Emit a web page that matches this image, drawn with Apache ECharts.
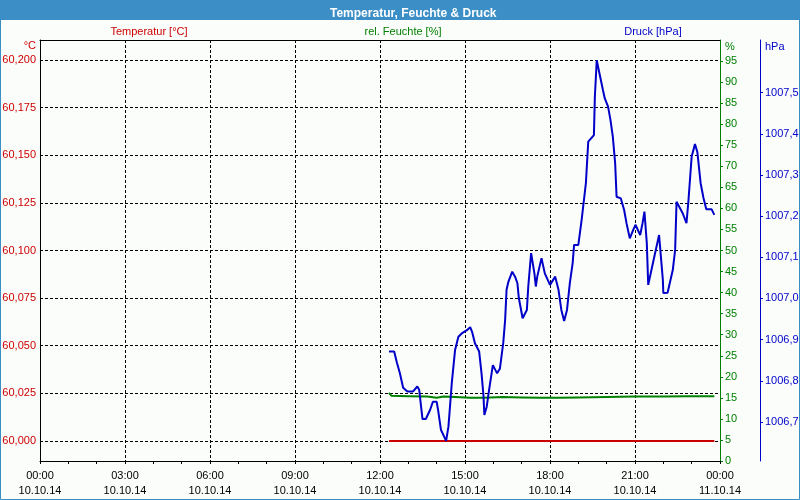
<!DOCTYPE html>
<html>
<head>
<meta charset="utf-8">
<script src="https://cdn.jsdelivr.net/npm/echarts@6/dist/echarts.min.js"></script>
<style>
  html, body { margin: 0; padding: 0; background: #fbfdfb; }
  #chart { width: 800px; height: 500px; }
</style>
</head>
<body>
<div id="chart"></div>
<script>
// Werte vom 10.10.14, Zeit als HH:MM
const temperature = [
  ['12:19', 60.0], ['14:00', 60.0], ['16:00', 60.0], ['18:00', 60.0],
  ['20:00', 60.0], ['22:00', 60.0], ['23:48', 60.0]
];
const humidity = [
  ['12:19', 16.2], ['12:24', 15.5], ['13:00', 15.4], ['13:40', 15.3], ['14:00', 15.0],
  ['14:15', 15.3], ['14:40', 15.2], ['15:10', 15.0], ['15:40', 15.0], ['16:20', 15.2],
  ['17:00', 15.1], ['17:40', 15.0], ['18:20', 15.0], ['19:00', 15.1], ['20:00', 15.2],
  ['21:00', 15.3], ['22:00', 15.3], ['22:50', 15.4], ['23:48', 15.4]
];
const pressure = [
  ['12:19', 1006.871], ['12:30', 1006.871], ['12:36', 1006.843], ['12:42', 1006.819],
  ['12:49', 1006.783], ['12:58', 1006.774], ['13:10', 1006.774], ['13:19', 1006.786],
  ['13:23', 1006.778], ['13:30', 1006.707], ['13:37', 1006.707], ['13:46', 1006.729],
  ['13:52', 1006.749], ['14:00', 1006.749], ['14:03', 1006.729], ['14:09', 1006.681],
  ['14:20', 1006.654], ['14:25', 1006.689], ['14:32', 1006.794], ['14:39', 1006.875],
  ['14:46', 1006.907], ['14:53', 1006.915], ['15:04', 1006.923], ['15:11', 1006.930],
  ['15:15', 1006.919], ['15:21', 1006.891], ['15:30', 1006.871], ['15:35', 1006.818],
  ['15:39', 1006.766], ['15:41', 1006.717], ['15:46', 1006.737], ['15:51', 1006.778],
  ['15:59', 1006.838], ['16:03', 1006.834], ['16:08', 1006.818], ['16:14', 1006.830],
  ['16:21', 1006.892], ['16:25', 1006.948], ['16:28', 1007.021], ['16:32', 1007.041],
  ['16:40', 1007.065], ['16:46', 1007.053], ['16:51', 1007.037], ['16:54', 1007.001],
  ['17:02', 1006.952], ['17:11', 1006.972], ['17:14', 1007.029], ['17:20', 1007.110],
  ['17:27', 1007.061], ['17:30', 1007.029], ['17:33', 1007.053], ['17:42', 1007.098],
  ['17:49', 1007.061], ['18:00', 1007.033], ['18:11', 1007.053], ['18:18', 1007.021],
  ['18:24', 1006.972], ['18:30', 1006.945], ['18:36', 1006.972], ['18:42', 1007.037],
  ['18:48', 1007.086], ['18:51', 1007.130], ['19:00', 1007.130], ['19:07', 1007.191],
  ['19:16', 1007.280], ['19:21', 1007.381], ['19:33', 1007.397], ['19:35', 1007.490],
  ['19:39', 1007.579], ['19:42', 1007.575], ['19:44', 1007.551], ['19:52', 1007.507],
  ['19:56', 1007.486], ['20:03', 1007.466], ['20:08', 1007.434], ['20:13', 1007.393],
  ['20:18', 1007.328], ['20:21', 1007.247], ['20:30', 1007.243], ['20:37', 1007.215],
  ['20:42', 1007.183], ['20:49', 1007.146], ['20:56', 1007.166], ['21:01', 1007.179],
  ['21:11', 1007.154], ['21:16', 1007.183], ['21:20', 1007.211], ['21:25', 1007.134],
  ['21:28', 1007.033], ['21:34', 1007.065], ['21:41', 1007.102], ['21:51', 1007.154],
  ['21:59', 1007.045], ['22:00', 1007.013], ['22:09', 1007.014], ['22:20', 1007.069],
  ['22:25', 1007.118], ['22:28', 1007.235], ['22:32', 1007.231], ['22:41', 1007.207],
  ['22:49', 1007.183], ['22:53', 1007.235], ['23:00', 1007.345], ['23:07', 1007.375],
  ['23:12', 1007.356], ['23:19', 1007.280], ['23:25', 1007.244], ['23:31', 1007.217],
  ['23:42', 1007.217], ['23:48', 1007.203]
];
const tempTicks = [60.0, 60.025, 60.05, 60.075, 60.1, 60.125, 60.15, 60.175, 60.2];
const pressTicks = [1006.7, 1006.8, 1006.9, 1007.0, 1007.1, 1007.2, 1007.3, 1007.4, 1007.5];

const FONT = 'Liberation Sans';
const RED = '#cc0000', GREEN = '#008000', BLUE = '#0000c8';

function toMin(s) {
  const p = s.split(':');
  return (+p[0]) * 60 + (+p[1]);
}
function toSeries(arr) {
  return arr.map(d => [toMin(d[0]), d[1]]);
}
function pad(n) { return (n < 10 ? '0' : '') + n; }

const chart = echarts.init(document.getElementById('chart'), null, { renderer: 'canvas' });

const dashed = { type: [3, 2], color: '#000', width: 1 };

const option = {
  backgroundColor: '#fbfdfb',
  animation: false,
  textStyle: { fontFamily: FONT },
  title: {
    text: 'Temperatur, Feuchte & Druck',
    left: 325,
    top: 3,
    textStyle: { color: '#fff', fontSize: 12, fontWeight: 'bold', fontFamily: FONT }
  },
  graphic: [
    { type: 'rect', z: 0, shape: { x: 0, y: 0, width: 800, height: 20 }, style: { fill: '#3c8fc6' } },
    { type: 'rect', z: 0, shape: { x: 0.5, y: 0.5, width: 799, height: 499 }, style: { fill: null, stroke: '#3c8fc6', lineWidth: 1 } },
    { type: 'text', x: 149, y: 32, style: { text: 'Temperatur [°C]', fill: RED, font: '11px ' + FONT, align: 'center', verticalAlign: 'middle' } },
    { type: 'text', x: 403, y: 32, style: { text: 'rel. Feuchte [%]', fill: GREEN, font: '11px ' + FONT, align: 'center', verticalAlign: 'middle' } },
    { type: 'text', x: 653, y: 32, style: { text: 'Druck [hPa]', fill: BLUE, font: '11px ' + FONT, align: 'center', verticalAlign: 'middle' } },
    { type: 'text', x: 36, y: 46, style: { text: '°C', fill: RED, font: '11px ' + FONT, align: 'right', verticalAlign: 'middle' } },
    { type: 'text', x: 725, y: 47, style: { text: '%', fill: GREEN, font: '11px ' + FONT, align: 'left', verticalAlign: 'middle' } },
    { type: 'text', x: 765, y: 47, style: { text: 'hPa', fill: BLUE, font: '11px ' + FONT, align: 'left', verticalAlign: 'middle' } }
  ],
  grid: { left: 40, top: 40, width: 680, height: 421, outerBoundsMode: 'none' },
  xAxis: [{
    type: 'value',
    min: 0,
    max: 1440,
    interval: 180,
    axisLine: { onZero: false, lineStyle: { color: '#000', width: 1 } },
    axisTick: { show: true, length: 3, lineStyle: { color: '#000' } },
    minorTick: { show: true, splitNumber: 3, length: 3, lineStyle: { color: '#000' } },
    splitLine: { show: true, lineStyle: dashed },
    axisLabel: {
      color: '#000', fontSize: 11, lineHeight: 15, margin: 7,
      showMinLabel: true, showMaxLabel: true,
      formatter: v => pad(Math.floor(v / 60) % 24) + ':00\n' + (v >= 1440 ? '11.10.14' : '10.10.14')
    }
  }, {
    type: 'value',
    position: 'top',
    min: 0,
    max: 1440,
    axisLine: { show: true, onZero: false, lineStyle: { color: '#000', width: 1 } },
    axisTick: { show: false },
    axisLabel: { show: false },
    splitLine: { show: false }
  }],
  yAxis: [{
    type: 'value',
    position: 'left',
    min: 59.9895,
    max: 60.2105,
    axisLine: { show: true, onZero: false, lineStyle: { color: '#000', width: 1 } },
    axisTick: { show: false, customValues: tempTicks },
    splitLine: { show: true, lineStyle: dashed },
    axisLabel: {
      color: RED, fontSize: 11, margin: 4,
      customValues: tempTicks,
      formatter: v => v.toFixed(3).replace('.', ',')
    }
  }, {
    type: 'value',
    position: 'right',
    offset: 0,
    min: 0,
    max: 100,
    interval: 5,
    axisLine: { show: true, onZero: false, lineStyle: { color: GREEN, width: 1 } },
    axisTick: { show: true, inside: false, length: 3, lineStyle: { color: GREEN } },
    splitLine: { show: false },
    axisLabel: { color: GREEN, fontSize: 11, margin: 5, showMaxLabel: false, showMinLabel: true }
  }, {
    type: 'value',
    position: 'right',
    offset: 40,
    min: 1006.605,
    max: 1007.628,
    axisLine: { show: true, onZero: false, lineStyle: { color: BLUE, width: 1 } },
    axisTick: { show: true, inside: false, length: 3, lineStyle: { color: BLUE }, customValues: pressTicks },
    splitLine: { show: false },
    axisLabel: {
      color: BLUE, fontSize: 11, margin: 5,
      customValues: pressTicks,
      formatter: v => v.toFixed(1).replace('.', ',')
    }
  }],
  series: [{
    name: 'Temperatur [°C]',
    type: 'line',
    yAxisIndex: 0,
    showSymbol: false,
    lineStyle: { color: RED, width: 2 },
    itemStyle: { color: RED },
    data: toSeries(temperature)
  }, {
    name: 'rel. Feuchte [%]',
    type: 'line',
    yAxisIndex: 1,
    showSymbol: false,
    lineStyle: { color: GREEN, width: 2 },
    itemStyle: { color: GREEN },
    data: toSeries(humidity)
  }, {
    name: 'Druck [hPa]',
    type: 'line',
    yAxisIndex: 2,
    showSymbol: false,
    lineStyle: { color: BLUE, width: 2 },
    itemStyle: { color: BLUE },
    data: toSeries(pressure)
  }]
};

chart.setOption(option);
</script>
</body>
</html>
